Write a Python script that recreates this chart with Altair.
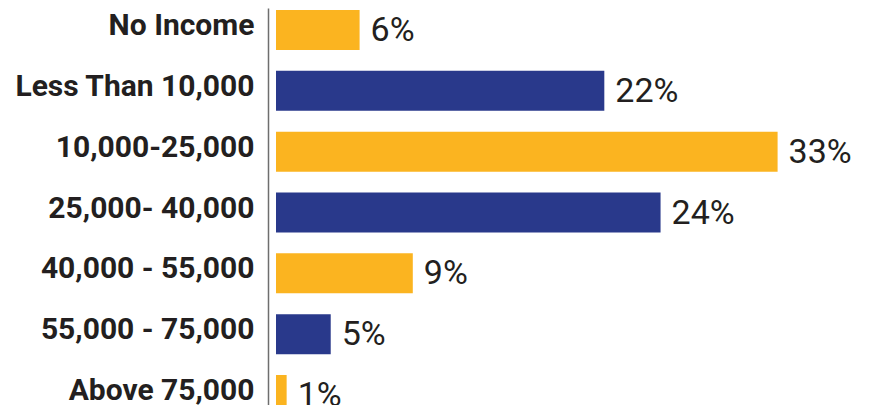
import altair as alt
import pandas as pd

categories = ["No Income", "Less Than 10,000", "10,000-25,000", "25,000- 40,000",
              "40,000 - 55,000", "55,000 - 75,000", "Above 75,000"]
values = [5.5, 21.6, 33.0, 25.3, 9.0, 3.6, 0.7]
labels = ["6%", "22%", "33%", "24%", "9%", "5%", "1%"]
groups = ["a", "b", "a", "b", "a", "b", "a"]

df = pd.DataFrame({"cat": categories, "val": values, "lab": labels, "grp": groups})

px_per = 15.2
W, H = 598, 397
xmin = -8 / px_per
xmax = xmin + W / px_per

yscale = alt.Scale(range=[0, 409], paddingInner=0.342, paddingOuter=0.033)
yaxis = alt.Axis(labelFont="Roboto", labelFontWeight="bold", labelFontSize=30,
                 labelColor="#231f20", labelPadding=14, ticks=False, labelOffset=-4,
                 domainColor="#6e6e6e", domainWidth=1.5, labelLimit=400, grid=False)
xscale = alt.Scale(domain=[xmin, xmax], nice=False, zero=False)

bars = alt.Chart(df).mark_bar(size=40).encode(
    y=alt.Y("cat:N", sort=categories, title=None, scale=yscale, axis=yaxis),
    x=alt.X("val:Q", title=None, scale=xscale, axis=None), x2=alt.X2(datum=0),
    color=alt.Color("grp:N", scale=alt.Scale(domain=["a", "b"], range=["#FBB420", "#29398B"]),
                    legend=None),
)
text = alt.Chart(df).mark_text(align="left", baseline="middle", dx=11, dy=1,
                               font="Roboto", fontSize=34, color="#231f20").encode(
    y=alt.Y("cat:N", sort=categories, title=None, scale=yscale, axis=yaxis),
    x=alt.X("val:Q", title=None, scale=xscale, axis=None),
    text="lab:N")

chart = (bars + text).properties(
    width=W, height=H,
    background="white",
    autosize=alt.AutoSizeParams(type="none"),
    padding={"left": 260, "top": 0, "right": 0, "bottom": 0},
).configure_view(stroke=None, strokeWidth=0)

chart.save("out.html", embed_options={"renderer": "svg", "actions": False})
